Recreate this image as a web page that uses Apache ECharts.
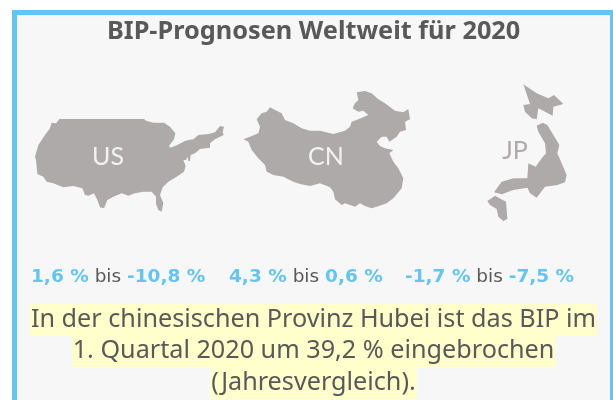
<!DOCTYPE html>
<html>
<head>
<meta charset="utf-8">
<style>
  html, body { margin: 0; padding: 0; background: #fff; }
  #main { width: 613px; height: 400px; }
</style>
<script src="https://cdn.jsdelivr.net/npm/echarts@6/dist/echarts.min.js"></script>
</head>
<body>
<div id="main"></div>
<script>
const titleText = "BIP-Prognosen Weltweit für 2020";
const countries = ["US", "CN", "JP"];
const forecastHigh = [1.6, 4.3, -1.7];
const forecastLow = [-10.8, 0.6, -7.5];
const captionLines = [
  "In der chinesischen Provinz Hubei ist das BIP im",
  "1. Quartal 2020 um 39,2 % eingebrochen",
  "(Jahresvergleich).",
];

// outlines at 3x, see toPixels below
const usOutline = [[118,117],[372,117],[378,122],[400,128],[432,128],[450,140],[466,160],[462,178],[447,198],[452,203],[470,196],[495,183],[505,180],[520,178],[535,165],[565,162],[585,157],[600,138],[612,140],[608,155],[611,165],[585,178],[570,190],[570,203],[540,207],[525,220],[512,225],[510,243],[505,243],[503,230],[498,240],[490,240],[497,258],[492,275],[470,290],[445,305],[428,322],[420,345],[430,370],[425,395],[415,390],[408,372],[408,350],[395,335],[370,335],[345,340],[325,347],[305,340],[280,350],[262,360],[252,385],[240,382],[232,360],[222,340],[205,347],[195,345],[187,325],[160,318],[130,322],[100,310],[80,305],[70,290],[52,282],[48,240],[45,230],[55,195],[75,165],[90,145],[95,128],[105,130],[110,128]];
const cnOutline = [[380,37],[405,33],[425,40],[445,58],[465,70],[495,92],[520,97],[535,87],[540,118],[525,125],[528,150],[510,155],[500,170],[478,185],[470,170],[455,170],[440,185],[450,198],[465,205],[490,210],[478,220],[490,245],[505,265],[520,295],[515,325],[490,355],[470,370],[440,380],[425,385],[405,378],[390,370],[375,380],[345,370],[335,375],[315,358],[310,335],[300,322],[270,310],[240,318],[210,312],[190,305],[160,290],[130,285],[110,275],[105,255],[85,235],[65,210],[55,185],[40,178],[60,170],[85,160],[90,140],[80,118],[95,100],[110,95],[120,82],[135,90],[155,100],[165,120],[190,130],[215,145],[240,152],[270,152],[310,162],[345,152],[360,140],[365,125],[385,118],[415,105],[400,92],[385,95],[368,85],[375,70],[385,60]];
const jpHokkaido = [[160,28],[200,55],[235,70],[252,60],[280,87],[250,95],[248,122],[205,100],[200,133],[185,130],[165,110],[160,90],[180,87]];
const jpHonshu = [[200,152],[218,143],[232,150],[250,180],[268,210],[262,235],[275,265],[290,300],[285,322],[262,330],[225,335],[200,368],[180,355],[172,338],[130,345],[95,358],[72,352],[95,320],[130,310],[172,310],[175,265],[197,275],[215,250],[228,235],[225,205],[205,170]];
const jpKyushu = [[52,378],[75,362],[108,380],[112,432],[100,438],[85,425],[80,402],[60,390]];

const toPixels = (outline, ox, oy) => outline.map((p) => [ox + p[0] / 3, oy + p[1] / 3]);
const closeRing = (ring) => ring.concat([ring[0]]);
const flipY = (ring) => closeRing(ring).map((p) => [p[0], -p[1]]);

const usRing = toPixels(usOutline, 20, 80);
const cnRing = toPixels(cnOutline, 230, 80);
const jpRings = [jpHokkaido, jpHonshu, jpKyushu].map((r) => toPixels(r, 470, 75));
const allPoints = usRing.concat(cnRing, ...jpRings);

const xs = allPoints.map((p) => p[0]);
const ys = allPoints.map((p) => p[1]);
const minX = Math.min(...xs), maxX = Math.max(...xs);
const minY = Math.min(...ys), maxY = Math.max(...ys);

function feature(name, rings, cp) {
  return {
    type: "Feature",
    properties: { name: name, cp: [cp[0], -cp[1]] },
    geometry: { type: "MultiPolygon", coordinates: rings.map((r) => [flipY(r)]) },
  };
}

echarts.registerMap("gdpMap", {
  type: "FeatureCollection",
  features: [
    feature(countries[0], [usRing], [108, 157]),
    feature(countries[1], [cnRing], [326, 157]),
    feature(countries[2], jpRings, [515, 151]),
  ],
});

const bodyFont = "'Noto Sans', sans-serif";
const rangeFont = "'DejaVu Sans', sans-serif";
const labelFont = "Lato, sans-serif";
const blue = "#63c5f0";
const grey = "#595959";
const shapeGrey = "#aeaaa9";

const pct = (v) => v.toFixed(1).replace(".", ",") + " %";

// x of the left edge of each range text
const rangeLeft = [31, 229, 405];
const rangeItems = countries.map((c, i) => ({
  type: "text",
  left: rangeLeft[i],
  top: 268,
  style: {
    text: `{v|${pct(forecastHigh[i])}}{b| bis }{v|${pct(forecastLow[i])}}`,
    rich: {
      v: { fontFamily: rangeFont, fontSize: 18.5, fontWeight: "bold", fill: blue, color: blue },
      b: { fontFamily: rangeFont, fontSize: 18.5, fill: grey, color: grey },
    },
  },
}));

const captionCenters = [320, 351, 383];
const captionItems = captionLines.map((line, i) => ({
  type: "text",
  x: 313.5,
  y: captionCenters[i],
  style: {
    text: line,
    fontFamily: bodyFont,
    fontSize: 25.2,
    fill: grey,
    align: "center",
    verticalAlign: "middle",
    backgroundColor: "#ffffcc",
    padding: [0, 1],
    lineHeight: 32,
  },
}));

var myChart = echarts.init(document.getElementById("main"));
myChart.setOption({
  animation: false,
  backgroundColor: "#ffffff",
  title: {
    text: titleText,
    left: 102,
    top: 14,
    textStyle: { fontFamily: bodyFont, fontSize: 25.3, fontWeight: "bold", color: grey },
  },
  geo: {
    map: "gdpMap",
    silent: true,
    roam: false,
    aspectScale: 1,
    left: minX,
    top: minY,
    width: maxX - minX,
    height: maxY - minY,
    itemStyle: { areaColor: shapeGrey, borderWidth: 0 },
    label: { show: true, fontFamily: labelFont, fontSize: 25, fontWeight: 400, color: "#f2f2f2" },
    regions: [{ name: countries[2], label: { color: shapeGrey } }],
  },
  graphic: [
    {
      type: "rect",
      z: -1,
      shape: { x: 14.5, y: 12.5, width: 598, height: 420 },
      style: { fill: "#f7f7f7", stroke: blue, lineWidth: 5 },
    },
  ].concat(rangeItems, captionItems),
});
</script>
</body>
</html>
